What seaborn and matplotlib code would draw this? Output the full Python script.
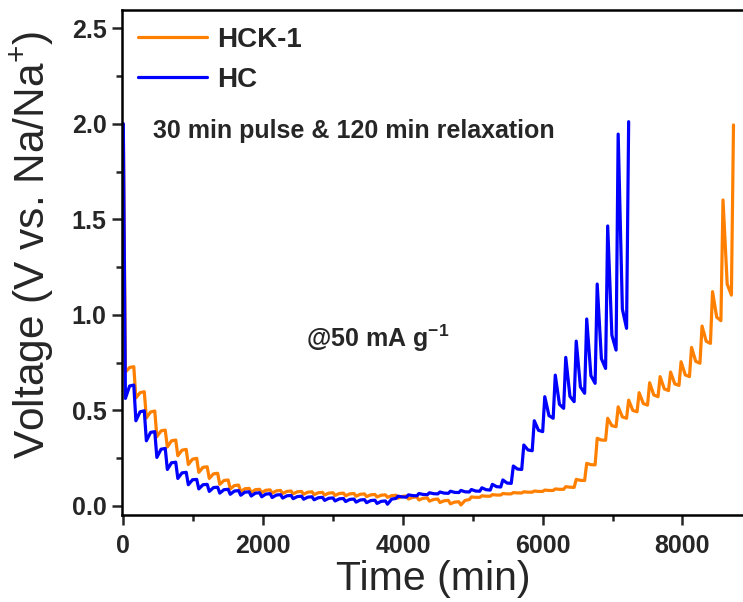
import pandas as pd
import seaborn as sns
import matplotlib
matplotlib.use('Agg')
import matplotlib.pyplot as plt
from matplotlib.ticker import MultipleLocator, FormatStrFormatter

# GITT protocol (min)
pulse_min = 30
relax_min = 120
knee_min = 60   # point read inside each rest period

# HCK-1: voltage at end of each pulse, 60 min into rest, and end of rest (V)
hck_start_v = 2.0
hck_pulse = [0.700, 0.565, 0.460, 0.362, 0.308, 0.262, 0.216, 0.175, 0.143, 0.112,
             0.088, 0.074, 0.070, 0.069, 0.066, 0.064, 0.062, 0.060, 0.058, 0.056,
             0.054, 0.052, 0.050, 0.048, 0.046, 0.044, 0.040, 0.035, 0.030, 0.024,
             0.017, 0.010, 0.004,
             0.046, 0.052, 0.058, 0.064, 0.069, 0.073, 0.077, 0.082, 0.088, 0.100,
             0.138, 0.222, 0.353, 0.458, 0.518, 0.553, 0.592, 0.644, 0.676, 0.700,
             0.754, 0.829, 0.941, 1.121, 1.601, 1.994]
hck_knee = [0.724, 0.592, 0.491, 0.392, 0.340, 0.291, 0.244, 0.201, 0.167, 0.132,
            0.106, 0.089, 0.084, 0.081, 0.078, 0.075, 0.073, 0.071, 0.068, 0.066,
            0.064, 0.062, 0.060, 0.057, 0.055, 0.053, 0.049, 0.044, 0.039, 0.033,
            0.026, 0.019, 0.028,
            0.044, 0.050, 0.056, 0.062, 0.067, 0.071, 0.075, 0.080, 0.086, 0.097,
            0.133, 0.215, 0.344, 0.419, 0.465, 0.499, 0.535, 0.580, 0.612, 0.638,
            0.685, 0.756, 0.861, 0.987, 1.160]
hck_relax = [0.728, 0.597, 0.496, 0.396, 0.344, 0.295, 0.248, 0.204, 0.170, 0.135,
             0.108, 0.091, 0.086, 0.083, 0.080, 0.077, 0.075, 0.073, 0.070, 0.068,
             0.066, 0.064, 0.062, 0.059, 0.057, 0.055, 0.051, 0.046, 0.041, 0.035,
             0.028, 0.021, 0.032,
             0.044, 0.050, 0.056, 0.062, 0.067, 0.071, 0.075, 0.080, 0.086, 0.096,
             0.132, 0.214, 0.343, 0.414, 0.458, 0.492, 0.527, 0.571, 0.603, 0.630,
             0.676, 0.746, 0.850, 0.969, 1.103]

# HC
hc_start_v = 2.0
hc_pulse = [0.562, 0.445, 0.340, 0.253, 0.190, 0.143, 0.110, 0.088, 0.075, 0.066,
            0.060, 0.055, 0.051, 0.047, 0.043, 0.040, 0.037, 0.034, 0.031, 0.028,
            0.025, 0.022, 0.019, 0.016, 0.012, 0.008,
            0.050, 0.057, 0.064, 0.068, 0.072, 0.076, 0.080, 0.085, 0.094, 0.112,
            0.135, 0.208, 0.318, 0.445, 0.571, 0.684, 0.777, 0.862, 0.978, 1.161,
            1.465, 1.946, 2.011]
hc_knee = [0.627, 0.492, 0.384, 0.296, 0.225, 0.172, 0.136, 0.110, 0.095, 0.084,
           0.077, 0.071, 0.066, 0.061, 0.056, 0.052, 0.048, 0.045, 0.042, 0.039,
           0.036, 0.033, 0.030, 0.027, 0.023, 0.035,
           0.046, 0.053, 0.059, 0.063, 0.066, 0.070, 0.073, 0.077, 0.084, 0.100,
           0.119, 0.192, 0.292, 0.395, 0.472, 0.531, 0.573, 0.622, 0.681, 0.770,
           0.893, 1.030]
hc_relax = [0.632, 0.497, 0.388, 0.300, 0.228, 0.175, 0.138, 0.112, 0.097, 0.086,
            0.079, 0.073, 0.068, 0.063, 0.058, 0.054, 0.050, 0.047, 0.044, 0.041,
            0.038, 0.035, 0.032, 0.029, 0.025, 0.038,
            0.045, 0.052, 0.058, 0.062, 0.065, 0.069, 0.072, 0.076, 0.082, 0.098,
            0.117, 0.190, 0.288, 0.388, 0.458, 0.510, 0.545, 0.589, 0.641, 0.719,
            0.815, 0.929]


def gitt_curve(v0, pulse, knee, relax):
    # step curve: end of pulse, a point inside the rest, end of rest
    t, v = [0], [v0]
    for k, vp in enumerate(pulse):
        start = k * (pulse_min + relax_min)
        t.append(start + pulse_min)
        v.append(vp)
        if k < len(relax):
            t.append(start + pulse_min + knee_min)
            v.append(knee[k])
            t.append(start + pulse_min + relax_min)
            v.append(relax[k])
    return t, v


t1, v1 = gitt_curve(hck_start_v, hck_pulse, hck_knee, hck_relax)
t2, v2 = gitt_curve(hc_start_v, hc_pulse, hc_knee, hc_relax)
df = pd.concat([
    pd.DataFrame({'time': t1, 'voltage': v1, 'sample': 'HCK-1'}),
    pd.DataFrame({'time': t2, 'voltage': v2, 'sample': 'HC'}),
], ignore_index=True)

sns.set_style('ticks')
plt.rcParams['font.family'] = ['Liberation Sans', 'DejaVu Sans']
plt.rcParams['mathtext.fontset'] = 'custom'
plt.rcParams['mathtext.rm'] = 'Liberation Sans'
plt.rcParams['mathtext.bf'] = 'Liberation Sans:bold'
plt.rcParams['mathtext.default'] = 'regular'

fig = plt.figure(figsize=(7.43, 6.02), dpi=100)
ax = fig.add_axes([0.1638, 0.145, 0.8394, 0.8384])

sns.lineplot(data=df, x='time', y='voltage', hue='sample', hue_order=['HCK-1', 'HC'],
             palette={'HCK-1': '#ff8000', 'HC': '#0000ff'}, sort=False, estimator=None,
             linewidth=2.3, ax=ax)

ax.set_xlim(-23, 8900)
ax.set_ylim(-0.047, 2.596)
ax.xaxis.set_major_locator(MultipleLocator(2000))
ax.xaxis.set_minor_locator(MultipleLocator(1000))
ax.yaxis.set_major_locator(MultipleLocator(0.5))
ax.yaxis.set_minor_locator(MultipleLocator(0.25))
ax.yaxis.set_major_formatter(FormatStrFormatter('%.1f'))

for s in ax.spines.values():
    s.set_linewidth(1.8)
    s.set_color('black')
ax.tick_params(which='major', direction='out', length=7, width=1.8, labelsize=18)
ax.tick_params(axis='x', which='major', pad=7)
ax.tick_params(axis='y', which='major', pad=4)
ax.tick_params(which='minor', direction='out', length=4.5, width=1.8)
for lab in ax.get_xticklabels() + ax.get_yticklabels():
    lab.set_fontweight('bold')

ax.set_xlabel('Time (min)', fontsize=29.5, labelpad=1)
ax.set_ylabel('Voltage (V vs. Na/Na$^{+}$)', fontsize=30.5)
ax.yaxis.set_label_coords(-0.105, 0.535)

ax.legend(frameon=False, loc='upper left', bbox_to_anchor=(0.026, 0.967),
          borderaxespad=0, borderpad=0, handlelength=2.5, handletextpad=0.35,
          labelspacing=0.52, prop={'size': 20, 'weight': 'bold'})

ax.text(425, 1.96, '30 min pulse & 120 min relaxation', fontsize=18,
        fontweight='bold', va='center', ha='left')
ax.text(2615, 0.878, '@50 mA g$^{\\mathbf{-1}}$', fontsize=18,
        fontweight='bold', va='center', ha='left')

fig.savefig('out.png', dpi=100)
